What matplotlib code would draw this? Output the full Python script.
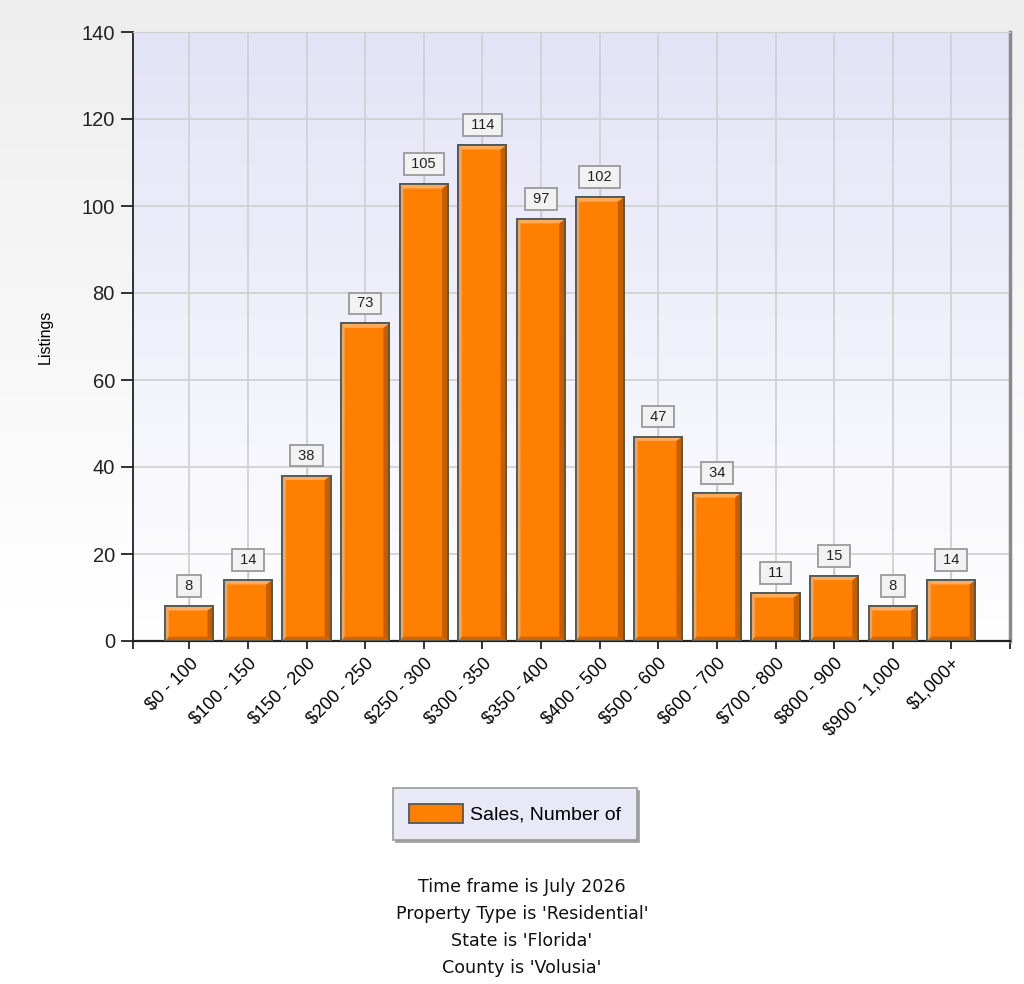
import numpy as np
import matplotlib.pyplot as plt
from matplotlib.colors import LinearSegmentedColormap
from matplotlib.patches import Patch

price_ranges = ['$0 - 100', '$100 - 150', '$150 - 200', '$200 - 250', '$250 - 300',
                '$300 - 350', '$350 - 400', '$400 - 500', '$500 - 600', '$600 - 700',
                '$700 - 800', '$800 - 900', '$900 - 1,000', '$1,000+']
listings = [8, 14, 38, 73, 105, 114, 97, 102, 47, 34, 11, 15, 8, 14]
y_ticks = [0, 20, 40, 60, 80, 100, 120, 140]
footer_lines = ['Time frame is July 2026', "Property Type is 'Residential'",
                "State is 'Florida'", "County is 'Volusia'"]
legend_label = 'Sales, Number of'

plt.rcParams['font.family'] = ['Liberation Sans', 'DejaVu Sans']

fig = plt.figure(figsize=(10.24, 9.84), dpi=100)

# figure background: light gray fading to white
bg = fig.add_axes([0, 0, 1, 1], zorder=-10)
grad = np.linspace(0, 1, 256).reshape(-1, 1)
bg.imshow(np.clip(grad * 1.6, 0, 1), cmap=LinearSegmentedColormap.from_list(
    'figbg', ['#eeeeee', '#ffffff']), aspect='auto', extent=[0, 1, 0, 1])
bg.axis('off')

ax = fig.add_axes([133 / 1024, 1 - 641 / 984, (1010 - 133) / 1024, (641 - 32) / 984])
ax.set_xlim(-0.96, 14.0)
ax.set_ylim(0, 140)

# plot area gradient: lavender at top to white at bottom
ax.imshow(grad, cmap=LinearSegmentedColormap.from_list(
    'axbg', ['#e3e3f7', '#ffffff']), aspect='auto', extent=[0, 1, 0, 1],
    transform=ax.transAxes, zorder=0)

x = np.arange(len(listings))
ax.set_axisbelow(True)
ax.grid(True, color='#d2d2d2', linewidth=1.3, zorder=1)

w = 0.82
dx_l, dx_r = 0.06, 0.1
dy_t, dy_b = 1.0, 1.0
edge = '#4d5a5a'
for xi, v in zip(x, listings):
    x0, x1 = xi - w / 2, xi + w / 2
    ax.bar(xi, v, width=w, color='#ff8000', edgecolor=edge, linewidth=1.3, zorder=3)
    # right and bottom shade
    ax.fill([x1, x1, x1 - dx_r, x1 - dx_r], [0, v, v - dy_t, dy_b], color='#c25f00', lw=0, zorder=4)
    ax.fill([x0, x1, x1 - dx_r, x0 + dx_l], [0, 0, dy_b, dy_b], color='#cf6600', lw=0, zorder=4)
    # left and top highlight
    ax.fill([x0, x0, x0 + dx_l, x0 + dx_l], [0, v, v - dy_t, dy_b], color='#ffa04a', lw=0, zorder=4)
    ax.fill([x0, x1, x1 - dx_r, x0 + dx_l], [v, v, v - dy_t, v - dy_t], color='#ffaa5c', lw=0, zorder=4)
    ax.bar(xi, v, width=w, color='none', edgecolor=edge, linewidth=1.3, zorder=5)
    # value label with leader line
    ax.plot([xi, xi], [v, v + 3], color='#c8c8c8', lw=1, zorder=2)
    ax.text(xi, v + 4.6, f' {v} ', ha='center', va='center', fontsize=10.5, color='#222222',
            zorder=6, bbox=dict(boxstyle='square,pad=0.26', fc='#f2f2f2', ec='#9a9a9a', lw=1.3))

ax.set_xticks(x)
ax.set_xticklabels(price_ranges, rotation=45, ha='right', rotation_mode='anchor', fontsize=13)
ax.set_xticks([-0.96, 14.0], minor=True)
ax.tick_params(axis='x', which='both', direction='out', length=6, width=1.3, color='#222222', pad=4)
ax.set_yticks(y_ticks)
ax.set_yticklabels([str(t) for t in y_ticks], fontsize=14.5, color='#222222')
ax.tick_params(axis='y', direction='out', length=9, width=1.3, color='#222222', pad=4)
ax.set_ylabel('Listings', fontsize=11.5, labelpad=21)

ax.spines['left'].set_color('#222222')
ax.spines['left'].set_linewidth(1.3)
ax.spines['bottom'].set_color('#222222')
ax.spines['bottom'].set_linewidth(1.6)
ax.spines['top'].set_color('#cfcfcf')
ax.spines['right'].set_color('#8a8a8a')
ax.spines['right'].set_linewidth(2.5)

handle = Patch(facecolor='#ff8000', edgecolor=edge, linewidth=1.3)
leg = fig.legend([handle], [legend_label], loc='center', bbox_to_anchor=(515 / 1024, 1 - 814 / 984),
                 fontsize=14, frameon=True, fancybox=False,
                 shadow=dict(color='#a0a0a0', alpha=1), handlelength=2.8,
                 handleheight=1.1, borderpad=0.8, handletextpad=0.35, borderaxespad=0)
leg.get_frame().set_facecolor('#e8e8f7')
leg.get_frame().set_edgecolor('#9a9a9a')
leg.get_frame().set_linewidth(1.2)
leg.get_frame().set_alpha(1)

for i, line in enumerate(footer_lines):
    fig.text(522 / 1024, 1 - (887 + 27 * i) / 984, line, ha='center', va='center',
             fontsize=12.6, family=['DejaVu Sans'], color='#111111')

fig.savefig('out.png', dpi=100)
